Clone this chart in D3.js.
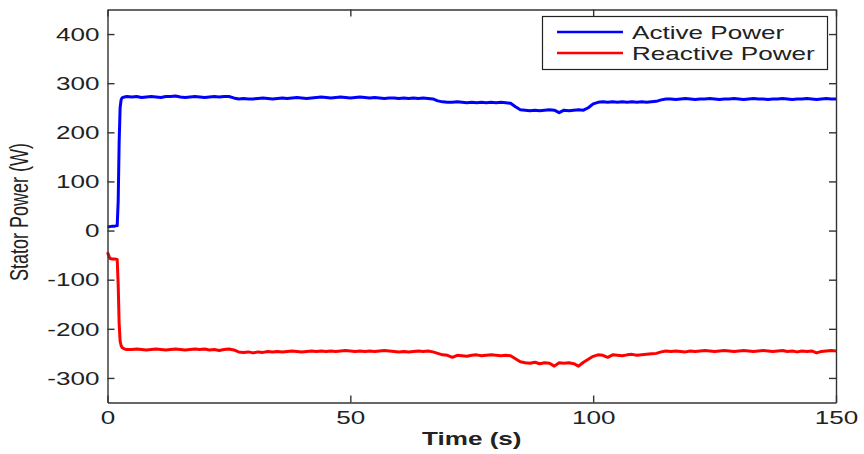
<!DOCTYPE html>
<html>
<head>
<meta charset="utf-8">
<script src="https://cdn.jsdelivr.net/npm/d3@7"></script>
<style>
  html, body { margin: 0; padding: 0; background: #fff; }
  svg { display: block; }
  text { font-family: "Liberation Sans", Arial, Helvetica, sans-serif; fill: #222; }
</style>
</head>
<body>
<svg id="chart" width="864" height="454"></svg>
<script>
// Stator power measurements (W) over time (s)
const startupTimes = [0, 0.5, 1, 1.5, 2, 2.2, 2.4, 2.6, 2.8, 3, 3.5, 4];
const sampleTimes = startupTimes.concat(d3.range(5, 151));

const activePower = [
  8, 8, 9, 9, 10, 60, 180, 250, 266, 270, 272, 273,
  272, 273, 271, 272, 273, 272, 271, 273, 273, 274,
  272, 271, 272, 273, 272, 271, 272, 273, 272, 273,
  273, 270, 268, 269, 268, 268, 269, 270, 269, 268,
  269, 270, 269, 270, 271, 270, 269, 270, 271, 272,
  271, 270, 271, 272, 271, 270, 271, 272, 271, 270,
  271, 270, 269, 270, 270, 269, 270, 269, 270, 269,
  270, 269, 268, 264, 262, 261, 261, 262, 261, 260,
  261, 260, 261, 260, 261, 260, 261, 260, 259, 252,
  246, 245, 244, 245, 244, 245, 246, 245, 240, 245,
  244, 245, 246, 245, 250, 258, 261, 262, 261, 262,
  261, 262, 261, 262, 261, 262, 261, 262, 263, 266,
  268, 268, 267, 268, 269, 268, 267, 268, 268, 269,
  268, 267, 268, 268, 269, 268, 267, 268, 269, 268,
  268, 267, 268, 268, 269, 268, 267, 268, 268, 269,
  268, 267, 268, 269, 268, 268
];

const reactivePower = [
  -44, -57, -58, -58, -59, -110, -190, -225, -234, -238, -241, -242,
  -242, -241, -242, -243, -242, -241, -242, -243, -242, -241,
  -242, -243, -242, -241, -242, -241, -243, -242, -244, -242,
  -241, -243, -247, -248, -247, -249, -247, -248, -246, -247,
  -246, -247, -246, -245, -246, -247, -246, -245, -246, -245,
  -246, -245, -246, -245, -244, -245, -246, -245, -246, -245,
  -246, -245, -244, -245, -246, -247, -246, -247, -246, -245,
  -246, -245, -247, -250, -253, -254, -258, -254, -255, -256,
  -254, -253, -255, -254, -253, -254, -255, -254, -255, -261,
  -267, -269, -270, -268, -271, -269, -270, -276, -269, -270,
  -269, -271, -276, -268, -262, -256, -253, -254, -258, -253,
  -254, -255, -253, -252, -254, -253, -252, -251, -250, -247,
  -245, -246, -245, -246, -247, -245, -246, -245, -244, -245,
  -246, -245, -244, -245, -246, -245, -244, -245, -246, -245,
  -244, -245, -246, -245, -244, -246, -245, -247, -245, -246,
  -245, -249, -246, -245, -244, -245
];

const xTicks = [0, 50, 100, 150];
const yTicks = [-300, -200, -100, 0, 100, 200, 300, 400];
const seriesNames = ["Active Power", "Reactive Power"];
const seriesColors = ["#0000ff", "#ff0000"];

const svg = d3.select("#chart");
const plot = { left: 107.5, right: 836, top: 9.5, bottom: 402.5 };
const stretch = 1.45;   // horizontal glyph stretch used throughout
const plainNumber = d => String(d);   // ASCII hyphen for negatives

const x = d3.scaleLinear().domain([0, 150]).range([plot.left, plot.right]);
const y = d3.scaleLinear().domain([-350, 450]).range([plot.bottom, plot.top]);

// Data lines
const line = d3.line().x(d => x(d[0])).y(d => y(d[1]));
[activePower, reactivePower].forEach((vals, i) => {
  svg.append("path")
    .datum(sampleTimes.map((t, k) => [t, vals[k]]))
    .attr("fill", "none")
    .attr("stroke", seriesColors[i])
    .attr("stroke-width", 3)
    .attr("stroke-linejoin", "round")
    .attr("d", line);
});

// Axes with inward ticks on all four sides
const axisColor = "#333";
function styleAxis(g) {
  g.selectAll("path.domain").attr("stroke", axisColor).attr("stroke-width", 1.4);
  g.selectAll(".tick line").attr("stroke", axisColor).attr("stroke-width", 1.4);
}

const gx = svg.append("g").attr("transform", `translate(0,${plot.bottom})`)
  .call(d3.axisBottom(x).tickValues(xTicks).tickSize(-7).tickSizeOuter(0).tickFormat(plainNumber));
gx.selectAll(".tick text")
  .attr("y", null).attr("dy", null)
  .attr("transform", `translate(0,21) scale(${stretch},1)`)
  .attr("font-size", 18).attr("fill", "#222");
styleAxis(gx);

const gy = svg.append("g").attr("transform", `translate(${plot.left},0)`)
  .call(d3.axisLeft(y).tickValues(yTicks).tickSize(-7).tickSizeOuter(0).tickFormat(plainNumber));
gy.selectAll(".tick text")
  .attr("x", null)
  .attr("dy", "0.35em")
  .attr("transform", `translate(-8,0) scale(${stretch},1)`)
  .attr("font-size", 18).attr("fill", "#222");
styleAxis(gy);

const gt = svg.append("g").attr("transform", `translate(0,${plot.top})`)
  .call(d3.axisTop(x).tickValues(xTicks).tickSize(-7).tickSizeOuter(0).tickFormat(""));
styleAxis(gt);

const gr = svg.append("g").attr("transform", `translate(${plot.right},0)`)
  .call(d3.axisRight(y).tickValues(yTicks).tickSize(-7).tickSizeOuter(0).tickFormat(""));
styleAxis(gr);

// Axis titles
svg.append("text")
  .attr("transform", `translate(${(plot.left + plot.right) / 2},445) scale(${stretch},1)`)
  .attr("text-anchor", "middle")
  .attr("font-size", 18).attr("font-weight", "bold")
  .text("Time (s)");

svg.append("text")
  .attr("transform", `translate(28,${(plot.top + plot.bottom) / 2 + 6}) scale(${stretch},1) rotate(-90)`)
  .attr("text-anchor", "middle")
  .attr("font-size", 18)
  .text("Stator Power (W)");

// Legend
const legend = svg.append("g");
legend.append("rect")
  .attr("x", 542.5).attr("y", 16.5).attr("width", 285).attr("height", 53)
  .attr("fill", "#fff").attr("stroke", "#222").attr("stroke-width", 1.2);
seriesNames.forEach((name, i) => {
  const ly = 32 + i * 21;
  legend.append("line")
    .attr("x1", 557).attr("x2", 623).attr("y1", ly).attr("y2", ly)
    .attr("stroke", seriesColors[i]).attr("stroke-width", 2.4);
  legend.append("text")
    .attr("transform", `translate(632,${ly + 6.5}) scale(${stretch},1)`)
    .attr("font-size", 18)
    .text(name);
});
</script>
</body>
</html>
